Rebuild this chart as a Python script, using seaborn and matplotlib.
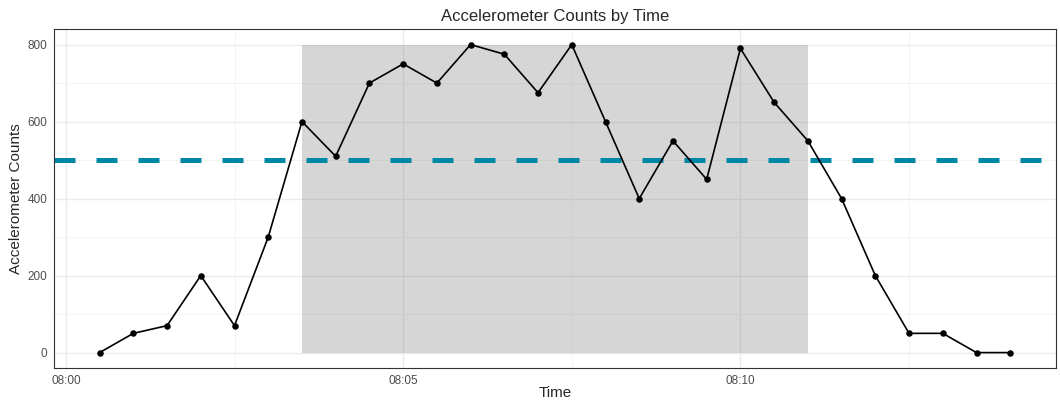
import pandas as pd
import seaborn as sns
import matplotlib.pyplot as plt
import matplotlib.dates as mdates

# Readings every 30 seconds
times = ['08:00:30', '08:01:00', '08:01:30', '08:02:00', '08:02:30', '08:03:00', '08:03:30',
         '08:04:00', '08:04:30', '08:05:00', '08:05:30', '08:06:00', '08:06:30', '08:07:00',
         '08:07:30', '08:08:00', '08:08:30', '08:09:00', '08:09:30', '08:10:00', '08:10:30',
         '08:11:00', '08:11:30', '08:12:00', '08:12:30', '08:13:00', '08:13:30', '08:14:00']
counts = [0, 50, 70, 200, 70, 300, 600, 510, 700, 750, 700, 800, 775, 675, 800, 600,
          400, 550, 450, 790, 650, 550, 400, 200, 50, 50, 0, 0]

# Highlighted bout and threshold
bout_start, bout_end = '08:03:30', '08:11:00'
bout_top = 800
threshold = 500
x_ticks = ['08:00', '08:05', '08:10']
x_minor = ['08:02:30', '08:07:30', '08:12:30']

day = '2024-01-01 '
df = pd.DataFrame({'Time': pd.to_datetime(day + pd.Series(times)),
                   'Counts': counts})

sns.set_style('whitegrid')
plt.rcParams['font.family'] = ['Liberation Sans', 'DejaVu Sans']

fig, ax = plt.subplots(figsize=(10.6, 4), dpi=100)
fig.subplots_adjust(left=0.051, right=0.996, top=0.927, bottom=0.08)

ax.axvspan(pd.Timestamp(day + bout_start), pd.Timestamp(day + bout_end),
           ymin=(0 + 40) / 880, ymax=(bout_top + 40) / 880,
           color='grey', alpha=0.32, lw=0, zorder=1)
ax.axhline(threshold, color='#0087A6', lw=3.6, dashes=(4.2, 4.2), zorder=2)
sns.lineplot(data=df, x='Time', y='Counts', color='black', lw=1.2, ax=ax, zorder=3)
sns.scatterplot(data=df, x='Time', y='Counts', color='black', s=22, lw=0, ax=ax, zorder=4)

t0, t1 = df['Time'].min(), df['Time'].max()
pad = (t1 - t0) * 0.05
ax.set_xlim(t0 - pad, t1 + pad)
ax.set_ylim(-40, 840)

ax.set_xticks([pd.Timestamp(day + t) for t in x_ticks])
ax.set_xticks([pd.Timestamp(day + t) for t in x_minor], minor=True)
ax.xaxis.set_major_formatter(mdates.DateFormatter('%H:%M'))
ax.set_yticks([0, 200, 400, 600, 800])
ax.set_yticks([100, 300, 500, 700], minor=True)

ax.grid(which='major', color='#EBEBEB', lw=1.0)
ax.grid(which='minor', color='#F3F3F3', lw=0.6)
ax.set_axisbelow(True)
ax.tick_params(which='major', length=3, color='#333333', labelsize=8.5,
               labelcolor='#4D4D4D', pad=2)
ax.tick_params(which='minor', length=0)
for s in ax.spines.values():
    s.set_visible(True)
    s.set_color('#333333')
    s.set_linewidth(0.8)

ax.set_title('Accelerometer Counts by Time', fontsize=12, pad=6)
ax.set_xlabel('Time', fontsize=11, labelpad=-1)
ax.set_ylabel('Accelerometer Counts', fontsize=11, labelpad=3)

fig.savefig('out.png', dpi=100)
